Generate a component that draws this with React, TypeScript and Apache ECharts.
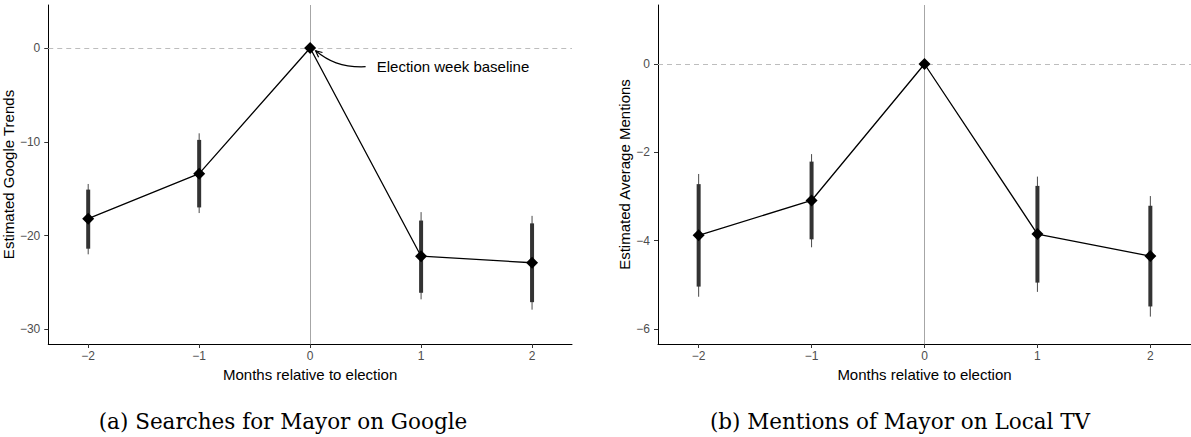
import React, { useEffect, useRef } from "react";
import * as echarts from "echarts";

const months = [-2, -1, 0, 1, 2];
const xTicks = [-2, -1, 0, 1, 2];

const googleEst = [-18.2, -13.4, 0, -22.2, -22.9];
const googleLo90 = [-21.4, -17.0, 0, -26.1, -27.1];
const googleHi90 = [-15.1, -9.8, 0, -18.4, -18.7];
const googleLo95 = [-22.0, -17.6, 0, -26.8, -27.9];
const googleHi95 = [-14.5, -9.1, 0, -17.5, -17.9];
const googleTicks = [0, -10, -20, -30];

const tvEst = [-3.88, -3.09, 0, -3.85, -4.35];
const tvLo90 = [-5.04, -3.97, 0, -4.95, -5.49];
const tvHi90 = [-2.72, -2.21, 0, -2.76, -3.21];
const tvLo95 = [-5.27, -4.15, 0, -5.16, -5.72];
const tvHi95 = [-2.49, -2.04, 0, -2.55, -2.99];
const tvTicks = [0, -2, -4, -6];

const captionA = "(a) Searches for Mayor on Google";
const captionB = "(b) Mentions of Mayor on Local TV";
const annotationText = "Election week baseline";

const SANS = "'Liberation Sans', Arial, Helvetica, sans-serif";
const SERIF = "'DejaVu Serif', 'Liberation Serif', serif";

const fmt = (v: number) => String(v).replace("-", "\u2212");

function xAxisCfg(gridIndex: number) {
  return {
    type: "value",
    gridIndex,
    min: -2.36,
    max: 2.36,
    name: "Months relative to election",
    nameLocation: "middle",
    nameGap: 21,
    nameTextStyle: { color: "#000", fontSize: 15, fontFamily: SANS },
    axisLine: { show: true, onZero: false, lineStyle: { color: "#000", width: 1 } },
    axisTick: { show: true, customValues: xTicks, length: 4, lineStyle: { color: "#333" } },
    axisLabel: {
      customValues: xTicks,
      formatter: fmt,
      color: "#4d4d4d",
      fontSize: 12,
      fontFamily: SANS,
      margin: 6,
    },
    splitLine: { show: false },
  };
}

function yAxisCfg(gridIndex: number, min: number, max: number, ticks: number[], name: string, nameGap: number) {
  return {
    type: "value",
    gridIndex,
    min,
    max,
    name,
    nameLocation: "middle",
    nameGap,
    nameTextStyle: { color: "#000", fontSize: 15, fontFamily: SANS },
    axisLine: { show: true, onZero: false, lineStyle: { color: "#000", width: 1 } },
    axisTick: { show: true, customValues: ticks, length: 4, lineStyle: { color: "#333" } },
    axisLabel: {
      customValues: ticks,
      formatter: fmt,
      color: "#4d4d4d",
      fontSize: 12,
      fontFamily: SANS,
      margin: 8,
    },
    splitLine: { show: false },
  };
}

function ciSeries(idx: number, lo95: number[], hi95: number[], lo90: number[], hi90: number[]) {
  return {
    type: "custom",
    xAxisIndex: idx,
    yAxisIndex: idx,
    z: 3,
    silent: true,
    data: months.map((m, i) => [m, lo95[i], hi95[i], lo90[i], hi90[i]]),
    encode: { x: 0, y: [1, 2, 3, 4] },
    renderItem: (params: any, api: any) => {
      const x = api.value(0);
      const a = api.coord([x, api.value(1)]);
      const b = api.coord([x, api.value(2)]);
      const c = api.coord([x, api.value(3)]);
      const d = api.coord([x, api.value(4)]);
      return {
        type: "group",
        children: [
          {
            type: "line",
            shape: { x1: a[0], y1: a[1], x2: b[0], y2: b[1] },
            style: { stroke: "#4a4a4a", lineWidth: 1 },
          },
          {
            type: "line",
            shape: { x1: c[0], y1: c[1], x2: d[0], y2: d[1] },
            style: { stroke: "#333333", lineWidth: 4, lineCap: "butt" },
          },
        ],
      };
    },
  };
}

function refSeries(idx: number) {
  return {
    type: "line",
    xAxisIndex: idx,
    yAxisIndex: idx,
    data: [],
    z: 1,
    silent: true,
    markLine: {
      silent: true,
      symbol: "none",
      label: { show: false },
      data: [
        { xAxis: 0, lineStyle: { color: "#a6a6a6", width: 1, type: "solid" } },
        { yAxis: 0, lineStyle: { color: "#bdbdbd", width: 1, type: [5, 4] } },
      ],
    },
  };
}

function estSeries(idx: number, est: number[]) {
  return {
    type: "line",
    xAxisIndex: idx,
    yAxisIndex: idx,
    z: 5,
    data: months.map((m, i) => [m, est[i]]),
    symbol: "diamond",
    symbolSize: 12,
    itemStyle: { color: "#000" },
    lineStyle: { color: "#000", width: 1.3 },
  };
}

export default function App() {
  const ref = useRef<HTMLDivElement>(null);
  useEffect(() => {
    if (!ref.current) return;
    const chart = echarts.init(ref.current, null, { renderer: "svg" });
    chart.setOption({
      animation: false,
      backgroundColor: "#fff",
      grid: [
        { left: 47, top: 5, width: 525, height: 339 },
        { left: 658, top: 5, width: 533, height: 339 },
      ],
      xAxis: [xAxisCfg(0), xAxisCfg(1)],
      yAxis: [
        yAxisCfg(0, -31.56, 4.58, googleTicks, "Estimated Google Trends", 31),
        yAxisCfg(1, -6.34, 1.336, tvTicks, "Estimated Average Mentions", 24),
      ],
      series: [
        refSeries(0),
        ciSeries(0, googleLo95, googleHi95, googleLo90, googleHi90),
        estSeries(0, googleEst),
        refSeries(1),
        ciSeries(1, tvLo95, tvHi95, tvLo90, tvHi90),
        estSeries(1, tvEst),
      ],
    });

    const P = (v: number[]) => chart.convertToPixel({ xAxisIndex: 0, yAxisIndex: 0 }, v) as number[];
    const textPos = P([0.6, -2]);
    const start = P([0.5, -2]);
    const tip = P([0.05, -0.3]);
    const cp1 = [start[0] - 24, start[1] + 1];
    const cp2 = [tip[0] + 12, tip[1] + 10];
    const ang = Math.atan2(tip[1] - cp2[1], tip[0] - cp2[0]);
    const L = 7;
    const h1 = [tip[0] - L * Math.cos(ang - 0.45), tip[1] - L * Math.sin(ang - 0.45)];
    const h2 = [tip[0] - L * Math.cos(ang + 0.45), tip[1] - L * Math.sin(ang + 0.45)];

    chart.setOption({
      graphic: [
        {
          type: "text",
          x: textPos[0],
          y: textPos[1],
          style: {
            text: annotationText,
            fill: "#000",
            font: `15px ${SANS}`,
            textAlign: "left",
            textVerticalAlign: "middle",
          },
        },
        {
          type: "bezierCurve",
          shape: {
            x1: start[0], y1: start[1], x2: tip[0], y2: tip[1],
            cpx1: cp1[0], cpy1: cp1[1], cpx2: cp2[0], cpy2: cp2[1],
          },
          style: { stroke: "#000", lineWidth: 1.2, fill: "none" },
        },
        {
          type: "polyline",
          shape: { points: [h1, tip, h2] },
          style: { stroke: "#000", lineWidth: 1.2, fill: "none" },
        },
        {
          type: "text",
          x: 283,
          y: 421,
          style: {
            text: captionA,
            fill: "#000",
            font: `21.5px ${SERIF}`,
            textAlign: "center",
            textVerticalAlign: "middle",
          },
        },
        {
          type: "text",
          x: 900,
          y: 421,
          style: {
            text: captionB,
            fill: "#000",
            font: `21.5px ${SERIF}`,
            textAlign: "center",
            textVerticalAlign: "middle",
          },
        },
      ],
    });

    return () => chart.dispose();
  }, []);
  return (
    <div
      ref={ref}
      style={{ position: "absolute", left: 0, top: 0, width: 1191, height: 437, background: "#fff" }}
    />
  );
}
